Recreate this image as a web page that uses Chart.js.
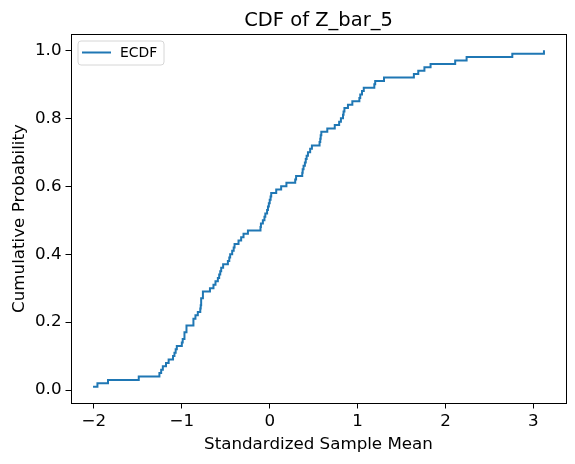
<!DOCTYPE html>
<html>
<head>
<meta charset="utf-8">
<script src="https://cdn.jsdelivr.net/npm/chart.js@4/dist/chart.umd.min.js"></script>
<style>
  html, body { margin: 0; padding: 0; background: #fff; }
  #wrap { width: 575px; height: 464px; }
</style>
</head>
<body>
<div id="wrap"><canvas id="c" width="575" height="464"></canvas></div>
<script>
// ECDF step points (sorted sample value, cumulative probability)
const xValues = [
  -2.01, -1.96, -1.84, -1.49, -1.255, -1.235, -1.216, -1.18, -1.15, -1.10,
  -1.084, -1.07, -1.057, -1.0, -0.99, -0.97, -0.947, -0.868, -0.845, -0.818,
  -0.79, -0.785, -0.78, -0.76, -0.68, -0.64, -0.617, -0.59, -0.575, -0.563,
  -0.552, -0.53, -0.476, -0.46, -0.45, -0.427, -0.41, -0.40, -0.355, -0.325,
  -0.298, -0.248, -0.105, -0.10, -0.078, -0.06, -0.05, -0.03, -0.02, -0.01,
  0.0, 0.01, 0.017, 0.074, 0.13, 0.19, 0.29, 0.30, 0.37, 0.375,
  0.385, 0.40, 0.41, 0.42, 0.435, 0.46, 0.48, 0.567, 0.575, 0.58,
  0.587, 0.655, 0.74, 0.79, 0.81, 0.834, 0.84, 0.85, 0.89, 0.94,
  1.02, 1.03, 1.05, 1.07, 1.19, 1.20, 1.30, 1.64, 1.69, 1.76,
  1.83, 2.11, 2.24, 2.76, 3.12
];
const yValues = [
  0.01, 0.02, 0.03, 0.04, 0.05, 0.06, 0.07, 0.08, 0.09, 0.10,
  0.11, 0.12, 0.13, 0.14, 0.15, 0.17, 0.19, 0.21, 0.22, 0.23,
  0.24, 0.25, 0.27, 0.29, 0.30, 0.31, 0.32, 0.33, 0.34, 0.35,
  0.36, 0.37, 0.38, 0.39, 0.40, 0.41, 0.42, 0.43, 0.44, 0.45,
  0.46, 0.47, 0.48, 0.49, 0.50, 0.51, 0.52, 0.53, 0.54, 0.55,
  0.56, 0.57, 0.58, 0.59, 0.60, 0.61, 0.62, 0.63, 0.64, 0.65,
  0.66, 0.67, 0.68, 0.69, 0.70, 0.71, 0.72, 0.73, 0.74, 0.75,
  0.76, 0.77, 0.78, 0.79, 0.80, 0.81, 0.82, 0.83, 0.84, 0.85,
  0.86, 0.87, 0.88, 0.89, 0.90, 0.91, 0.92, 0.93, 0.94, 0.95,
  0.96, 0.97, 0.98, 0.99, 1.0
];
const xTicks = [-2, -1, 0, 1, 2, 3];
const yTicks = [0.0, 0.2, 0.4, 0.6, 0.8, 1.0];
const seriesLabel = 'ECDF';
const chartTitle = 'CDF of Z_bar_5';
const xAxisTitle = 'Standardized Sample Mean';
const yAxisTitle = 'Cumulative Probability';

const LINE_COLOR = '#1f77b4';
const FONT = '"DejaVu Sans", sans-serif';

const points = xValues.map((x, i) => ({ x: x, y: yValues[i] }));

const decorPlugin = {
  id: 'decor',
  afterDraw(chart) {
    const ctx = chart.ctx;
    const a = chart.chartArea;
    ctx.save();
    // frame
    ctx.strokeStyle = '#000';
    ctx.lineWidth = 1;
    ctx.strokeRect(Math.round(a.left) + 0.5, Math.round(a.top) + 0.5,
                   Math.round(a.right - a.left) - 1, Math.round(a.bottom - a.top) - 1);
    // title
    ctx.fillStyle = '#000';
    ctx.textAlign = 'center';
    ctx.textBaseline = 'alphabetic';
    ctx.font = '19.5px ' + FONT;
    ctx.fillText(chartTitle, (a.left + a.right) / 2, 25.5);
    // axis titles
    ctx.font = '16.7px ' + FONT;
    ctx.fillText(xAxisTitle, (a.left + a.right) / 2, 449);
    ctx.save();
    ctx.translate(24, (a.top + a.bottom) / 2);
    ctx.rotate(-Math.PI / 2);
    ctx.fillText(yAxisTitle, 0, 0);
    ctx.restore();
    // legend
    const lx = a.left + 7.5, ly = a.top + 7.5, lw = 86, lh = 24;
    ctx.fillStyle = 'rgba(255,255,255,0.8)';
    ctx.strokeStyle = '#d6d6d6';
    ctx.lineWidth = 1;
    ctx.beginPath();
    if (ctx.roundRect) ctx.roundRect(lx, ly, lw, lh, 3); else ctx.rect(lx, ly, lw, lh);
    ctx.fill();
    ctx.stroke();
    ctx.strokeStyle = LINE_COLOR;
    ctx.lineWidth = 2;
    ctx.beginPath();
    ctx.moveTo(lx + 4, ly + 11.5);
    ctx.lineTo(lx + 33, ly + 11.5);
    ctx.stroke();
    ctx.fillStyle = '#000';
    ctx.textAlign = 'left';
    ctx.textBaseline = 'middle';
    ctx.font = '13.9px ' + FONT;
    ctx.fillText(seriesLabel, lx + 42, ly + 12);
    ctx.restore();
  }
};

const fmtMinus = s => String(s).replace('-', '\u2212');

new Chart(document.getElementById('c'), {
  type: 'line',
  data: {
    datasets: [{
      label: seriesLabel,
      data: points,
      borderColor: LINE_COLOR,
      backgroundColor: LINE_COLOR,
      borderWidth: 2,
      pointRadius: 0,
      stepped: 'before',
      fill: false
    }]
  },
  options: {
    responsive: false,
    animation: false,
    devicePixelRatio: 1,
    layout: { padding: { left: 0, right: 8.5, top: 33.5, bottom: 0 } },
    plugins: {
      legend: { display: false },
      title: { display: false },
      tooltip: { enabled: false }
    },
    scales: {
      x: {
        type: 'linear',
        min: -2.2665,
        max: 3.3765,
        afterBuildTicks: s => { s.ticks = xTicks.map(v => ({ value: v })); },
        afterFit: s => { s.height = 60.5; },
        grid: { display: true, drawOnChartArea: false, drawTicks: true, tickLength: 5, color: '#000', tickColor: '#000' },
        border: { display: false },
        ticks: {
          color: '#000',
          font: { family: FONT, size: 16.7 },
          padding: 3,
          maxRotation: 0,
          autoSkip: false,
          callback: v => fmtMinus(v)
        }
      },
      y: {
        type: 'linear',
        min: -0.0395,
        max: 1.0495,
        afterBuildTicks: s => { s.ticks = yTicks.map(v => ({ value: v })); },
        afterFit: s => { s.width = 70.5; },
        grid: { display: true, drawOnChartArea: false, drawTicks: true, tickLength: 5, color: '#000', tickColor: '#000' },
        border: { display: false },
        ticks: {
          color: '#000',
          font: { family: FONT, size: 16.7 },
          padding: 4,
          autoSkip: false,
          callback: v => Number(v).toFixed(1)
        }
      }
    }
  },
  plugins: [decorPlugin]
});
</script>
</body>
</html>
